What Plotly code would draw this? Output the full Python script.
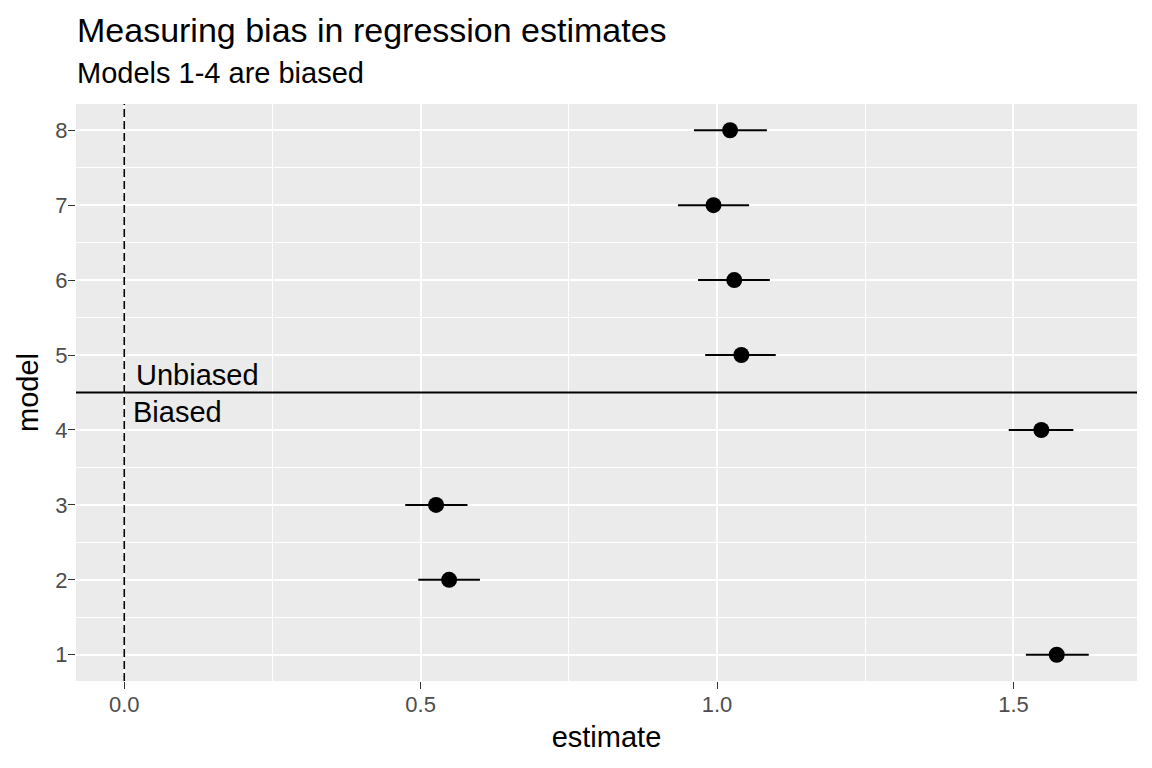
import numpy as np
import plotly.graph_objects as go

model = [1, 2, 3, 4, 5, 6, 7, 8]
estimate = [1.573, 0.548, 0.526, 1.547, 1.041, 1.029, 0.994, 1.022]
lower = [1.521, 0.496, 0.474, 1.492, 0.980, 0.968, 0.934, 0.961]
upper = [1.627, 0.600, 0.579, 1.601, 1.099, 1.089, 1.054, 1.084]

x_ticks = [0.0, 0.5, 1.0, 1.5]
x_tick_labels = ['0.0', '0.5', '1.0', '1.5']
y_ticks = model

split_at = 4.5
label_text = ['Unbiased', 'Biased']
label_x = [0.016, 0.012]
label_y = [4.73, 4.24]

font = 'Liberation Sans, Arial, sans-serif'

est = np.array(estimate)
err_plus = np.array(upper) - est
err_minus = est - np.array(lower)

fig = go.Figure()
fig.add_trace(go.Scatter(
    x=estimate, y=model, mode='markers',
    marker=dict(color='black', size=16),
    error_x=dict(type='data', array=err_plus, arrayminus=err_minus,
                 color='black', thickness=2, width=0),
    showlegend=False, hoverinfo='x+y'))

# zero line and biased / unbiased split
fig.add_vline(x=0, line=dict(color='black', width=1.6, dash='8px,4px'))
fig.add_hline(y=split_at, line=dict(color='black', width=1.8))

for txt, lx, ly in zip(label_text, label_x, label_y):
    fig.add_annotation(x=lx, y=ly, text=txt, showarrow=False,
                       xanchor='left', yanchor='middle',
                       font=dict(family=font, size=29, color='black'))

fig.add_annotation(xref='paper', yref='paper', x=-0.001, y=1.129,
                   text='Measuring bias in regression estimates', showarrow=False,
                   xanchor='left', yanchor='middle',
                   font=dict(family=font, size=34, color='black'))
fig.add_annotation(xref='paper', yref='paper', x=-0.001, y=1.053,
                   text='Models 1-4 are biased', showarrow=False,
                   xanchor='left', yanchor='middle',
                   font=dict(family=font, size=29, color='black'))

fig.update_xaxes(range=[-0.0814, 1.7084], tickvals=x_ticks, ticktext=x_tick_labels,
                 showgrid=True, gridcolor='white', gridwidth=2.2,
                 minor=dict(dtick=0.25, showgrid=True, gridcolor='white', gridwidth=1.1),
                 ticks='outside', ticklen=7, tickwidth=1.3, tickcolor='#333333',
                 ticklabelstandoff=-3,
                 tickfont=dict(family=font, size=22, color='#4D4D4D'),
                 zeroline=False, showline=False,
                 title=dict(text='estimate', standoff=10,
                            font=dict(family=font, size=29, color='black')))
fig.update_yaxes(range=[0.65, 8.35], tickvals=y_ticks,
                 showgrid=True, gridcolor='white', gridwidth=2.2,
                 minor=dict(tick0=0.5, dtick=1, showgrid=True, gridcolor='white', gridwidth=1.1),
                 ticks='outside', ticklen=7, tickwidth=1.3, tickcolor='#333333',
                 ticklabelstandoff=-4,
                 tickfont=dict(family=font, size=22, color='#4D4D4D'),
                 zeroline=False, showline=False,
                 title=dict(text='model', standoff=8,
                            font=dict(family=font, size=29, color='black')))

# page body keeps an 8px margin, so the figure is a little smaller
fig.update_layout(width=1144, height=760,
                  margin=dict(l=68, r=15, t=96, b=87),
                  plot_bgcolor='#EBEBEB', paper_bgcolor='white',
                  font=dict(family=font))

fig.write_html('out.html')
